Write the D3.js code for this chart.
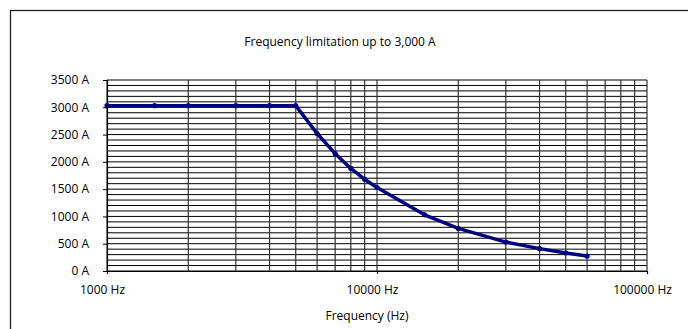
<!DOCTYPE html>
<html><head><meta charset="utf-8">
<script src="https://cdn.jsdelivr.net/npm/d3@7"></script>
<style>
html,body{margin:0;padding:0;background:#fff;overflow:hidden}
svg{display:block;font-family:"Open Sans","Noto Sans",sans-serif}
</style></head>
<body><svg id="c" width="688" height="329"></svg>
<script>
const title = "Frequency limitation up to 3,000 A";
const xTitle = "Frequency (Hz)";
const freqs = [1000,1500,2000,3000,4000,5000,6000,7000,8000,9000,10000,15000,20000,30000,40000,50000,60000];
const amps  = [3030,3030,3030,3030,3030,3030,2520,2150,1880,1680,1530,1030,780,530,410,330,275];
const xMajorTicks = [1000,10000,100000];
const xTickLabels = ["1000 Hz","10000 Hz","100000 Hz"];
const yTicks = [0,500,1000,1500,2000,2500,3000,3500];
const yTickLabels = ["0 A","500 A","1000 A","1500 A","2000 A","2500 A","3000 A","3500 A"];
const yGridStep = 100;
const decadeMultipliers = [1,2,3,4,5,6,7,8,9];

const svg = d3.select("#c");
const M = {l:107, r:647, t:80, b:271};
const x = d3.scaleLog().domain([1000,100000]).range([M.l,M.r]);
const y = d3.scaleLinear().domain([0,3500]).range([M.b,M.t]);
const FS = 12;

// outer chart frame
svg.append("rect").attr("x",10.5).attr("y",10.5).attr("width",700).attr("height",340)
  .attr("fill","none").attr("stroke","#222").attr("stroke-width",1.3);

// title
svg.append("text").attr("x",340).attr("y",46).attr("text-anchor","middle")
  .attr("font-size",FS).attr("fill","#000").text(title);

// horizontal grid every 100 A
const hg = d3.range(0,3500+1,yGridStep);
svg.append("g").selectAll("line").data(hg).join("line")
  .attr("x1",M.l).attr("x2",M.r).attr("y1",d=>y(d)).attr("y2",d=>y(d))
  .attr("stroke","#000").attr("stroke-width",1);

// vertical grid at every log minor tick
const vg = [];
[1000,10000].forEach(base=>decadeMultipliers.forEach(m=>vg.push(base*m)));
vg.push(100000);
svg.append("g").selectAll("line").data(vg).join("line")
  .attr("x1",d=>x(d)).attr("x2",d=>x(d)).attr("y1",M.t).attr("y2",M.b)
  .attr("stroke","#333").attr("stroke-width",1.2);

// y axis
const yAxis = d3.axisLeft(y).tickValues(yTicks).tickSize(4).tickPadding(14)
  .tickFormat((d,i)=>yTickLabels[i]);
const ya = svg.append("g").attr("transform",`translate(${M.l},0)`).call(yAxis);
ya.select(".domain").attr("stroke","#000").attr("stroke-width",1.2);
ya.selectAll(".tick line").attr("stroke","#000");
ya.selectAll("text").attr("font-size",FS).attr("fill","#000").attr("font-family","Open Sans");

// x axis
const xAxis = d3.axisBottom(x).tickValues(xMajorTicks).tickSize(3).tickPadding(11)
  .tickFormat((d,i)=>xTickLabels[i]);
const xa = svg.append("g").attr("transform",`translate(0,${M.b})`).call(xAxis);
xa.select(".domain").attr("stroke","#000").attr("stroke-width",1.2);
xa.selectAll(".tick line").attr("stroke","#000");
xa.selectAll("text").attr("font-size",FS).attr("fill","#000").attr("font-family","Open Sans").attr("dx",-5);

// x title
svg.append("text").attr("x",367).attr("y",320).attr("text-anchor","middle")
  .attr("font-size",FS).attr("fill","#000").text(xTitle);

// series
const pts = freqs.map((f,i)=>[f,amps[i]]);
svg.append("path").datum(pts)
  .attr("d",d3.line().x(d=>x(d[0])).y(d=>y(d[1])))
  .attr("fill","none").attr("stroke","#000080").attr("stroke-width",3.5)
  .attr("stroke-linejoin","round");
svg.append("g").selectAll("circle").data(pts).join("circle")
  .attr("cx",d=>x(d[0])).attr("cy",d=>y(d[1])).attr("r",2.6).attr("fill","#000080");
</script></body></html>
